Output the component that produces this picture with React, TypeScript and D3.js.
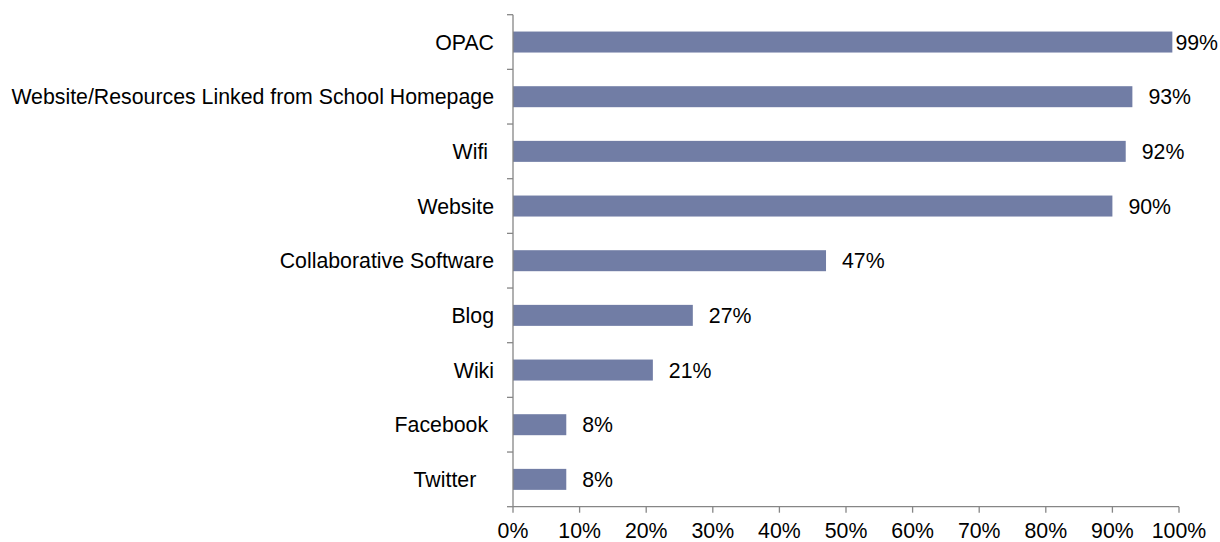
import React, { useEffect, useRef } from "react";
import * as d3 from "d3";

const categories = [
  "OPAC",
  "Website/Resources Linked from School Homepage",
  "Wifi ",
  "Website",
  "Collaborative Software",
  "Blog",
  "Wiki",
  "Facebook ",
  "Twitter   ",
];
const values = [99, 93, 92, 90, 47, 27, 21, 8, 8];
const xTicks = [0, 10, 20, 30, 40, 50, 60, 70, 80, 90, 100];

const W = 1220;
const H = 542;
const left = 513;
const right = 1179;
const top = 14.7;
const bottom = 506.7;
const FONT = "'Liberation Sans', Arial, sans-serif";
const FS = 21.3;
const AXIS = "#868686";
const BAR = "#717DA5";

export default function App() {
  const ref = useRef<SVGSVGElement | null>(null);

  useEffect(() => {
    const svg = d3.select(ref.current);
    svg.selectAll("*").remove();

    const x = d3.scaleLinear().domain([0, 100]).range([left, right]);
    const y = d3
      .scaleBand<string>()
      .domain(categories)
      .range([top, bottom])
      .paddingInner(0.616)
      .paddingOuter(0.308);
    const step = y.step();

    // bars
    svg
      .append("g")
      .selectAll("rect")
      .data(values)
      .join("rect")
      .attr("x", x(0))
      .attr("y", (_, i) => y(categories[i]) as number)
      .attr("width", (d) => x(d) - x(0))
      .attr("height", y.bandwidth())
      .attr("fill", BAR);

    // axes
    const ax = svg.append("g").attr("stroke", AXIS).attr("stroke-width", 1.3);
    ax.append("line")
      .attr("x1", left)
      .attr("x2", left)
      .attr("y1", top)
      .attr("y2", bottom);
    for (let i = 0; i <= categories.length; i++) {
      const yy = top + i * step;
      ax.append("line")
        .attr("x1", left - 6)
        .attr("x2", left)
        .attr("y1", yy)
        .attr("y2", yy);
    }
    ax.append("line")
      .attr("x1", left)
      .attr("x2", right)
      .attr("y1", bottom)
      .attr("y2", bottom);
    xTicks.forEach((t) => {
      ax.append("line")
        .attr("x1", x(t))
        .attr("x2", x(t))
        .attr("y1", bottom)
        .attr("y2", bottom + 6);
    });

    // x tick labels
    svg
      .append("g")
      .selectAll("text")
      .data(xTicks)
      .join("text")
      .attr("x", (d) => x(d))
      .attr("y", 537.5)
      .attr("text-anchor", "middle")
      .attr("font-family", FONT)
      .attr("font-size", FS)
      .attr("fill", "#000")
      .text((d) => `${d}%`);

    // category labels
    svg
      .append("g")
      .selectAll("text")
      .data(categories)
      .join("text")
      .attr("x", left - 19)
      .attr("y", (d) => (y(d) as number) + y.bandwidth() / 2 + 7.5)
      .attr("text-anchor", "end")
      .attr("font-family", FONT)
      .attr("font-size", FS)
      .attr("fill", "#000")
      .style("white-space", "pre")
      .attr("xml:space", "preserve")
      .text((d) => d);

    // value labels
    const vl = svg
      .append("g")
      .selectAll("text")
      .data(values)
      .join("text")
      .attr("x", (d) => x(d) + 16)
      .attr("y", (_, i) => (y(categories[i]) as number) + y.bandwidth() / 2 + 7.5)
      .attr("font-family", FONT)
      .attr("font-size", FS)
      .attr("fill", "#000")
      .text((d) => `${d}%`);
    vl.each(function (d) {
      const el = this as SVGTextElement;
      const w = el.getComputedTextLength();
      const xx = Math.min(x(d) + 16, 1218 - w);
      d3.select(el).attr("x", xx);
    });
  }, []);

  return (
    <svg
      ref={ref}
      width={W}
      height={H}
      style={{ position: "absolute", left: 0, top: 0, background: "#fff" }}
    />
  );
}
